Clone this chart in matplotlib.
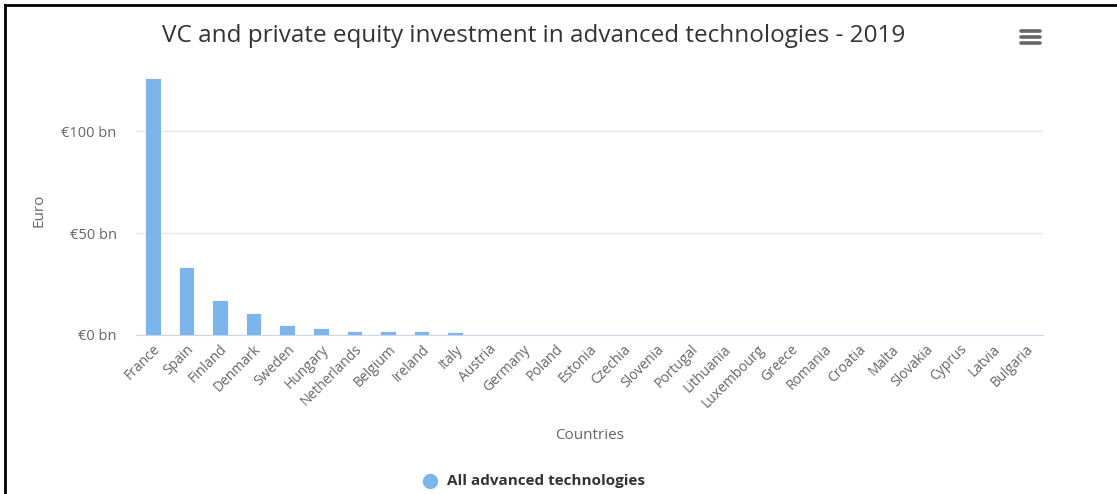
import numpy as np
import matplotlib
matplotlib.use("Agg")
import matplotlib.pyplot as plt
from matplotlib.lines import Line2D

countries = ["France", "Spain", "Finland", "Denmark", "Sweden", "Hungary", "Netherlands",
             "Belgium", "Ireland", "Italy", "Austria", "Germany", "Poland", "Estonia",
             "Czechia", "Slovenia", "Portugal", "Lithuania", "Luxembourg", "Greece",
             "Romania", "Croatia", "Malta", "Slovakia", "Cyprus", "Latvia", "Bulgaria"]
# EUR bn
values = [126.0, 33.3, 17.2, 10.6, 5.0, 3.3, 2.0, 2.0, 2.0, 1.3, 0.7, 0.15, 0.1, 0.1,
          0.08, 0.06, 0.05, 0.05, 0.04, 0.03, 0.03, 0.02, 0.02, 0.02, 0.01, 0.01, 0.01]
yticks = [0, 50, 100]

plt.rcParams["font.family"] = ["Open Sans", "DejaVu Sans"]
fig = plt.figure(figsize=(11.17, 4.94), dpi=100)
ax = fig.add_axes([0.1218, 0.3219, 0.8119, 0.5364])

x = np.arange(len(countries))
ax.bar(x, values, width=0.46, color="#7cb5ec", edgecolor="white", linewidth=0.6, zorder=3)
ax.set_xlim(-0.5, len(countries) - 0.5)
ax.set_ylim(0, 130)
ax.set_yticks(yticks)
ax.set_yticklabels([f"€{v} bn" for v in yticks], color="#666666", fontsize=10.5)
ax.yaxis.grid(True, color="#e6e6e6", lw=1, zorder=0)
ax.tick_params(axis="y", length=0, pad=14)
ax.set_xticks(x)
ax.set_xticklabels(countries, rotation=45, ha="right", va="top", rotation_mode="anchor",
                   color="#666666", fontsize=10)
ax.tick_params(axis="x", length=0, pad=5)
for s in ["top", "right", "left"]:
    ax.spines[s].set_visible(False)
ax.spines["bottom"].set_color("#ccd6eb")

fig.text(0.478, 0.928, "VC and private equity investment in advanced technologies - 2019",
         ha="center", va="center", fontsize=17.5, color="#333333")
fig.text(0.528, 0.119, "Countries", ha="center", va="center", fontsize=11, color="#666666")
fig.text(0.035, 0.575, "Euro", ha="center", va="center", rotation=90, fontsize=11, color="#666666")

# legend
fig.add_artist(Line2D([0.385], [0.026], marker="o", ms=10, color="#7cb5ec", transform=fig.transFigure))
fig.text(0.400, 0.026, "All advanced technologies", ha="left", va="center",
         fontsize=11, fontweight="bold", color="#333333")

# menu icon
for yy in [31, 37, 43]:
    fig.add_artist(Line2D([1021 / 1117, 1040 / 1117], [1 - yy / 494] * 2, color="#666666",
                          lw=2.6, solid_capstyle="round", transform=fig.transFigure))

# screenshot frame (top and left)
fig.add_artist(Line2D([4.5 / 1117, 1], [1 - 5.5 / 494] * 2, color="black", lw=2, transform=fig.transFigure))
fig.add_artist(Line2D([4.5 / 1117] * 2, [0, 1 - 5.5 / 494], color="black", lw=2, transform=fig.transFigure))

fig.savefig("out.png", dpi=100)
